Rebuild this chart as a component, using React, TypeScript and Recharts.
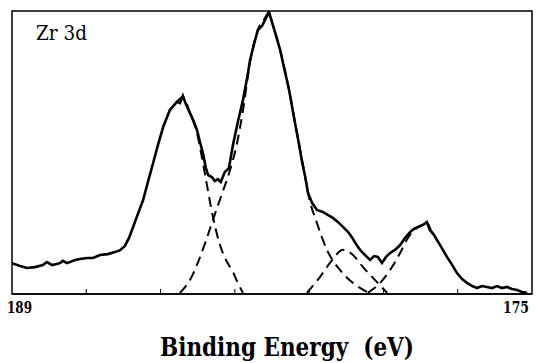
import { LineChart, Line, XAxis, YAxis, ReferenceArea } from 'recharts';

// Zr 3d XPS spectrum (binding energy in eV, intensity in arbitrary units 0-100)
const spectrumEnergy = [
    189.0, 188.78, 188.6, 188.38, 188.17, 188.06, 187.92, 187.71, 187.63, 187.52,
    187.3, 187.17, 186.98, 186.82, 186.63, 186.42, 186.23, 186.09, 185.96, 185.85,
    185.74, 185.61, 185.47, 185.34, 185.2, 185.07, 184.93, 184.75, 184.56, 184.48,
    184.4, 184.32, 184.21, 184.1, 184.02, 183.94, 183.86, 183.78, 183.72, 183.62,
    183.54, 183.46, 183.38, 183.27, 183.16, 183.05, 182.92, 182.78, 182.67, 182.59,
    182.49, 182.38, 182.27, 182.19, 182.08, 182.0, 181.89, 181.78, 181.68, 181.54,
    181.41, 181.27, 181.19, 181.11, 181.03, 180.92, 180.79, 180.63, 180.49, 180.36,
    180.22, 180.09, 179.95, 179.85, 179.74, 179.63, 179.5, 179.36, 179.25, 179.15,
    179.04, 178.93, 178.82, 178.69, 178.55, 178.42, 178.28, 178.18, 178.07, 177.94,
    177.83, 177.75, 177.64, 177.56, 177.43, 177.29, 177.15, 177.02, 176.88, 176.75,
    176.61, 176.48, 176.35, 176.21, 176.08, 175.94, 175.81, 175.67, 175.54, 175.4,
    175.27, 175.13,
];
const spectrumCounts = [
    10.9, 9.9, 9.2, 9.5, 10.2, 11.3, 10.2, 10.9, 11.7, 10.9,
    12.0, 12.4, 12.7, 12.7, 13.8, 14.1, 14.8, 15.5, 17.0, 19.8,
    23.7, 28.3, 33.2, 39.6, 46.3, 52.7, 59.0, 65.0, 67.9, 67.5,
    70.0, 67.1, 64.0, 60.8, 58.0, 53.7, 49.8, 44.5, 42.0, 41.3,
    39.9, 40.6, 39.6, 43.1, 44.5, 52.7, 60.8, 68.6, 76.3, 82.7,
    88.0, 93.3, 94.7, 96.8, 99.6, 96.1, 91.2, 86.2, 80.2, 72.1,
    62.5, 52.7, 46.6, 41.7, 35.7, 32.2, 29.7, 29.0, 27.9, 26.9,
    25.4, 23.7, 21.9, 20.1, 17.7, 15.6, 13.8, 12.0, 13.4, 13.1,
    11.0, 13.1, 14.5, 15.6, 17.3, 19.8, 21.9, 23.0, 23.7, 24.4,
    25.4, 22.6, 20.9, 19.1, 16.3, 13.1, 10.3, 7.4, 5.3, 3.9,
    2.8, 2.1, 2.8, 2.5, 2.1, 2.8, 2.1, 2.5, 1.8, 1.4,
    0.7, 0.4,
];

// fitted components (dashed)
const fitA_E = [184.56, 184.4, 184.21, 184.02, 183.8, 183.59, 183.4, 183.21, 183.05, 182.92, 182.78];
const fitA_I = [67.9, 69.6, 64.0, 56.9, 42.0, 27.2, 17.3, 11.3, 7.8, 3.9, 0.4];

const fitB_E = [
    184.48, 184.32, 184.15, 183.99, 183.8, 183.59, 183.35, 183.13, 182.97, 182.78,
    182.59, 182.38, 182.19, 182.08, 182.0, 181.78, 181.54, 181.27, 181.11, 181.03,
    180.79, 180.52, 180.17, 179.82, 179.44,
];
const fitB_I = [
    0.4, 2.8, 6.4, 11.3, 18.0, 26.2, 35.3, 43.8, 51.6, 65.0,
    82.0, 93.3, 97.5, 99.6, 96.1, 86.2, 72.1, 52.7, 41.7, 35.7,
    25.1, 15.6, 8.5, 3.9, 0.7,
];

const fitC_E = [181.06, 180.71, 180.38, 180.09, 179.82, 179.55, 179.23, 178.9];
const fitC_I = [0.4, 6.0, 12.0, 15.6, 13.8, 9.5, 5.0, 0.4];

const fitD_E = [179.42, 179.09, 178.82, 178.55, 178.34, 178.1, 177.94, 177.83, 177.7, 177.56];
const fitD_I = [0.4, 3.9, 8.5, 14.5, 19.8, 23.3, 24.4, 25.1, 22.0, 19.1];

const tickValues = [189, 187, 185, 183, 181, 179, 177, 175];

const toPoints = (e: number[], v: number[]) => e.map((x, i) => ({ e: x, v: v[i] }));

const spectrum = toPoints(spectrumEnergy, spectrumCounts);
const fits = [
    toPoints(fitA_E, fitA_I),
    toPoints(fitB_E, fitB_I),
    toPoints(fitC_E, fitC_I),
    toPoints(fitD_E, fitD_I),
];

// only DejaVu Serif resolves here, squeeze it to Times-like widths with textLength
const serif = "'DejaVu Serif', serif";

const EnergyTick = (props: any) => {
    const { x, y, payload } = props;
    const v = payload.value;
    const style = { fontFamily: serif, fontWeight: 'bold' as const, fontSize: 17 };
    if (v === 189) {
        return <text x={x - 5} y={y + 19} textLength={25} lengthAdjust="spacingAndGlyphs" style={style} fill="#000">189</text>;
    }
    if (v === 175) {
        return <text x={x - 29} y={y + 19} textLength={26} lengthAdjust="spacingAndGlyphs" style={style} fill="#000">175</text>;
    }
    // small inward ticks, no labels
    return <line x1={x} x2={x} y1={y} y2={y - 5} stroke="#000" strokeWidth={1} />;
};

export default function App() {
    return (
        <div style={{ position: 'absolute', left: 0, top: 0, width: 537, height: 363, background: '#fff' }}>
            <LineChart width={537} height={363} margin={{ top: 11, right: 5, left: 12, bottom: 0 }}>
                <XAxis
                    type="number"
                    dataKey="e"
                    domain={[175, 189]}
                    reversed
                    ticks={tickValues}
                    interval={0}
                    height={69}
                    tickSize={0}
                    tickMargin={0}
                    tickLine={false}
                    axisLine={{ stroke: '#000', strokeWidth: 1.5 }}
                    tick={<EnergyTick />}
                    allowDataOverflow
                />
                <YAxis type="number" domain={[0, 100]} hide allowDataOverflow />
                <ReferenceArea x1={189} x2={175} y1={0} y2={100} fill="none" stroke="#000" strokeWidth={1.5} />
                {fits.map((d, i) => (
                    <Line
                        key={i}
                        data={d}
                        dataKey="v"
                        type="monotone"
                        stroke="#000"
                        strokeWidth={2}
                        strokeDasharray="10 6"
                        dot={false}
                        isAnimationActive={false}
                    />
                ))}
                <Line
                    data={spectrum}
                    dataKey="v"
                    type="linear"
                    stroke="#000"
                    strokeWidth={2.6}
                    dot={false}
                    isAnimationActive={false}
                />
            </LineChart>
            <svg width={537} height={363} style={{ position: 'absolute', left: 0, top: 0, pointerEvents: 'none' }}>
                <text x={36} y={40} textLength={51} lengthAdjust="spacingAndGlyphs" style={{ fontFamily: serif, fontSize: 20 }} fill="#000">Zr 3d</text>
                <text x={160} y={356} textLength={254} lengthAdjust="spacingAndGlyphs" style={{ fontFamily: serif, fontWeight: 'bold', fontSize: 26, whiteSpace: 'pre' }} fill="#000">
                    {'Binding Energy  (eV)'}
                </text>
            </svg>
        </div>
    );
}
